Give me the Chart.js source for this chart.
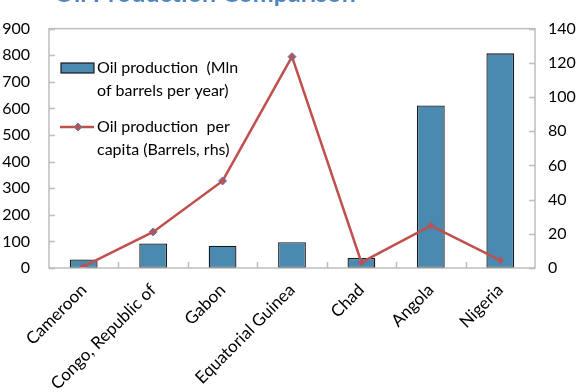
<!DOCTYPE html>
<html>
<head>
<meta charset="utf-8">
<script src="https://cdn.jsdelivr.net/npm/chart.js@4.4.1/dist/chart.umd.min.js"></script>
<style>
  html, body { margin: 0; padding: 0; background: #fff; }
  #wrap { width: 578px; height: 392px; position: relative; }
</style>
</head>
<body>
<div id="wrap"><canvas id="oil-chart" width="578" height="392"></canvas></div>
<script>
// data
const countries = ['Cameroon', 'Congo, Republic of', 'Gabon', 'Equatorial Guinea', 'Chad', 'Angola', 'Nigeria'];
const production_mln = [32, 92, 84, 97, 38, 611, 807];
const production_per_capita = [0.9, 21.1, 50.9, 123.6, 3.3, 24.8, 4.4];
const bar_legend_lines = ['Oil production  (Mln', 'of barrels per year)'];
const line_legend_lines = ['Oil production  per', 'capita (Barrels, rhs)'];
const chart_title = 'Oil Production Comparison';

const font_family = 'Lato, "Open Sans", sans-serif';
const bar_color = '#4a8ab0';
const line_color = '#c0504d';
const frame_color = '#bdbdbd';

// inner tick marks, plot frame, clipped title and legend
const extras = {
    id: 'extras',
    afterDraw(chart) {
        const ctx = chart.ctx;
        const area = chart.chartArea;
        const yl = chart.scales.y;
        const yr = chart.scales.y2;
        ctx.save();

        ctx.strokeStyle = frame_color;
        ctx.lineWidth = 1.5;
        ctx.beginPath();
        yl.ticks.forEach(t => {
            let py = Math.round(yl.getPixelForValue(t.value)) + 0.5;
            ctx.moveTo(area.left, py);
            ctx.lineTo(area.left + 6, py);
        });
        yr.ticks.forEach(t => {
            let py = Math.round(yr.getPixelForValue(t.value)) + 0.5;
            ctx.moveTo(area.right - 6, py);
            ctx.lineTo(area.right, py);
        });
        let cat_w = (area.right - area.left) / countries.length;
        for (let i = 1; i < countries.length; i++) {
            let px = Math.round(area.left + i * cat_w) + 0.5;
            ctx.moveTo(px, area.bottom);
            ctx.lineTo(px, area.bottom - 6);
        }
        ctx.stroke();
        ctx.strokeRect(area.left, area.top, area.right - area.left, area.bottom - area.top);

        // title, mostly cut off by the top edge
        ctx.fillStyle = '#4f86c0';
        ctx.font = 'bold 25px ' + font_family;
        ctx.textBaseline = 'alphabetic';
        ctx.textAlign = 'left';
        ctx.fillText(chart_title, 54, 2);

        // legend inside the plot
        ctx.font = '16px ' + font_family;
        ctx.textBaseline = 'middle';
        ctx.fillStyle = bar_color;
        ctx.fillRect(61, 63, 33, 10);
        ctx.strokeStyle = '#1a1a1a';
        ctx.lineWidth = 1.2;
        ctx.strokeRect(61, 63, 33, 10);
        ctx.fillStyle = '#000';
        bar_legend_lines.forEach((s, i) => ctx.fillText(s, 97, 68 + i * 23));

        ctx.strokeStyle = line_color;
        ctx.lineWidth = 2.5;
        ctx.beginPath();
        ctx.moveTo(60, 127);
        ctx.lineTo(94, 127);
        ctx.stroke();
        ctx.beginPath();
        ctx.moveTo(78, 123);
        ctx.lineTo(82, 127);
        ctx.lineTo(78, 131);
        ctx.lineTo(74, 127);
        ctx.closePath();
        ctx.fillStyle = line_color;
        ctx.fill();
        ctx.strokeStyle = '#4f81bd';
        ctx.lineWidth = 1;
        ctx.stroke();
        ctx.fillStyle = '#000';
        line_legend_lines.forEach((s, i) => ctx.fillText(s, 97, 127 + i * 23));

        ctx.restore();
    }
};

window.addEventListener('load', e => {
    const ctx = document.getElementById('oil-chart').getContext('2d');
    new Chart(ctx, {
        data: {
            labels: countries,
            datasets: [{
                type: 'line',
                label: line_legend_lines.join(' '),
                data: production_per_capita,
                yAxisID: 'y2',
                borderColor: line_color,
                borderWidth: 2.5,
                pointStyle: 'rectRot',
                pointRadius: 4,
                pointBackgroundColor: line_color,
                pointBorderColor: '#4f81bd',
                pointBorderWidth: 1,
                tension: 0,
                order: 0
            }, {
                type: 'bar',
                label: bar_legend_lines.join(' '),
                data: production_mln,
                yAxisID: 'y',
                backgroundColor: bar_color,
                borderColor: '#1a1a1a',
                borderWidth: 1.3,
                borderSkipped: false,
                categoryPercentage: 1,
                barPercentage: 0.4,
                order: 1
            }]
        },
        options: {
            responsive: false,
            animation: false,
            layout: { padding: { top: 14, left: 0, right: 0, bottom: 0 } },
            plugins: {
                legend: { display: false },
                title: { display: false },
                tooltip: { enabled: false }
            },
            scales: {
                x: {
                    offset: true,
                    grid: { display: false, drawTicks: false },
                    border: { display: false },
                    ticks: {
                        color: '#000',
                        font: { family: font_family, size: 17 },
                        minRotation: 45,
                        maxRotation: 45,
                        padding: 12
                    },
                    afterFit: s => { s.height = 124; }
                },
                y: {
                    position: 'left',
                    min: 0,
                    max: 900,
                    grid: { display: false, drawTicks: false },
                    border: { display: false },
                    ticks: {
                        stepSize: 100,
                        color: '#000',
                        padding: 19,
                        font: { family: font_family, size: 16 }
                    },
                    afterFit: s => { s.width = 49; }
                },
                y2: {
                    position: 'right',
                    min: 0,
                    max: 140,
                    grid: { display: false, drawTicks: false },
                    border: { display: false },
                    ticks: {
                        stepSize: 20,
                        color: '#000',
                        padding: 13,
                        font: { family: font_family, size: 16 }
                    },
                    afterFit: s => { s.width = 43; }
                }
            }
        },
        plugins: [extras]
    });
});
</script>
</body>
</html>
